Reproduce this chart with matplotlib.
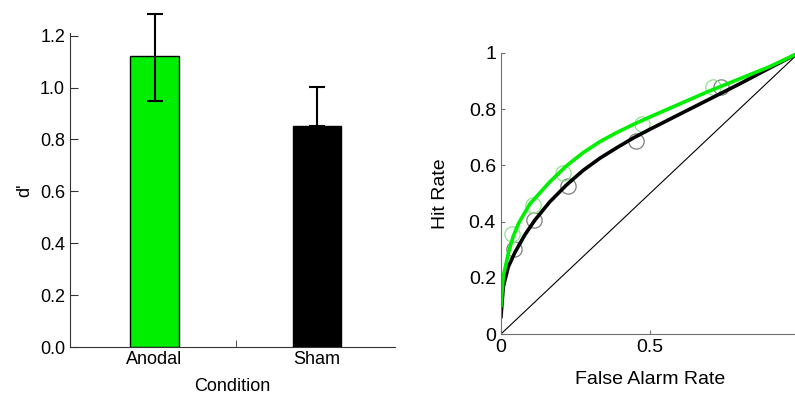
import matplotlib
matplotlib.use("Agg")
import matplotlib.pyplot as plt

### Data

conditions = ["Anodal", "Sham"]
dprime = [1.12, 0.853]
err_low = [0.17, 0.0]
err_high = [0.165, 0.15]
bar_colours = ["#00ee00", "#000000"]

# observed ROC points (false alarm rate, hit rate)
anodal_fa = [0.039, 0.108, 0.209, 0.475, 0.71]
anodal_hit = [0.355, 0.46, 0.573, 0.746, 0.877]
sham_fa = [0.045, 0.112, 0.226, 0.455, 0.74]
sham_hit = [0.302, 0.405, 0.526, 0.686, 0.877]

# fitted ROC curves
anodal_curve_fa = [0, 0.008, 0.025, 0.041, 0.06, 0.097, 0.164, 0.22, 0.276, 0.332, 0.388,
                   0.444, 0.5, 0.578, 0.69, 0.802, 0.9, 1.0]
anodal_curve_hit = [0.095, 0.204, 0.287, 0.346, 0.395, 0.462, 0.541, 0.598, 0.645, 0.684, 0.716,
                    0.745, 0.772, 0.808, 0.86, 0.908, 0.95, 1.0]
sham_curve_fa = [0, 0.008, 0.025, 0.047, 0.08, 0.114, 0.164, 0.22, 0.276, 0.332, 0.388,
                 0.444, 0.5, 0.578, 0.69, 0.802, 0.9, 1.0]
sham_curve_hit = [0.056, 0.168, 0.239, 0.29, 0.352, 0.405, 0.47, 0.53, 0.582, 0.625, 0.662,
                  0.697, 0.728, 0.77, 0.83, 0.89, 0.945, 1.0]


plt.rcParams["font.family"] = ["Liberation Sans", "DejaVu Sans"]
fig = plt.figure(figsize=(7.95, 3.94), dpi=100)

### Bar chart

ax = fig.add_axes([0.088, 0.119, 0.409, 0.797])
x = list(range(len(conditions)))
ax.bar(x, dprime, width=0.3, color=bar_colours, edgecolor="black", linewidth=1, zorder=2)
# anodal error bar drawn over the bar, sham one tucked behind so only the upper half shows
ax.errorbar(x[0], dprime[0], yerr=[[err_low[0]], [err_high[0]]], fmt="none", ecolor="black",
            elinewidth=1.5, capsize=6, capthick=1.5, clip_on=False, zorder=3)
ax.errorbar(x[1], dprime[1], yerr=[[err_low[1]], [err_high[1]]], fmt="none", ecolor="black",
            elinewidth=1.5, capsize=6, capthick=1.5, clip_on=False, zorder=1)
ax.set_xlim(-0.52, 1.48)
ax.set_ylim(0, 1.21)
yticks = [0.0, 0.2, 0.4, 0.6, 0.8, 1.0, 1.2]
ax.set_yticks(yticks, [f"{v:.1f}" for v in yticks])
ax.set_xticks(x, conditions)
ax.set_xticks([0.5], minor=True)
ax.tick_params(axis="x", which="major", length=0, labelsize=13, pad=3)
ax.tick_params(axis="x", which="minor", direction="in", length=5, color="#333333")
ax.tick_params(axis="y", direction="in", length=6, labelsize=13, color="#333333")
for side in ["top", "right"]:
    ax.spines[side].set_visible(False)
for side in ["left", "bottom"]:
    ax.spines[side].set_color("#333333")
ax.set_xlabel("Condition", fontsize=13, labelpad=7)
ax.set_ylabel("d'", fontsize=13, labelpad=5)

### ROC plot

ax2 = fig.add_axes([0.630, 0.152, 0.375, 0.714])
ax2.plot([0, 1], [0, 1], color="black", linewidth=0.8)
ax2.plot(sham_fa, sham_hit, linestyle="none", marker="o", markersize=11,
         markerfacecolor="none", markeredgecolor="#7f7f7f", markeredgewidth=0.9)
ax2.plot(anodal_fa, anodal_hit, linestyle="none", marker="o", markersize=11,
         markerfacecolor="none", markeredgecolor="#8fe08f", markeredgewidth=0.9)
ax2.plot(sham_curve_fa, sham_curve_hit, color="black", linewidth=2.6, solid_capstyle="butt",
         solid_joinstyle="round")
ax2.plot(anodal_curve_fa, anodal_curve_hit, color="#00ee00", linewidth=2.6, solid_capstyle="butt",
         solid_joinstyle="round")
ax2.set_xlim(0, 1)
ax2.set_ylim(0, 1)
ax2.set_xticks([0, 0.5, 1], ["0", "0.5", "1"])
ax2.set_yticks([0, 0.2, 0.4, 0.6, 0.8, 1], ["0", "0.2", "0.4", "0.6", "0.8", "1"])
ax2.tick_params(axis="both", direction="in", length=3, labelsize=14, color="#707070")
for side in ["top", "right"]:
    ax2.spines[side].set_visible(False)
for side in ["left", "bottom"]:
    ax2.spines[side].set_color("#707070")
ax2.set_xlabel("False Alarm Rate", fontsize=14, labelpad=11)
ax2.set_ylabel("Hit Rate", fontsize=14, labelpad=14)

fig.savefig("out.png", dpi=100)
